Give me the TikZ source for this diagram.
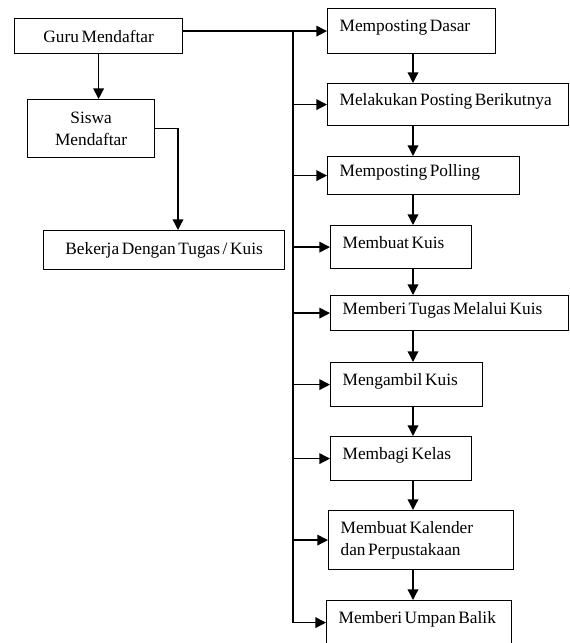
\documentclass[tikz,border=0pt]{standalone}
\usepackage{fontspec}
\setmainfont[WordSpace=0.6]{Liberation Serif}
\usetikzlibrary{arrows.meta,positioning}
\tikzset{
  kotak/.style = {draw, line width=0.9pt, rectangle, align=center, inner sep=2pt,
                  anchor=north west},
  tahap/.style = {draw, line width=0.9pt, rectangle, align=flush left, inner xsep=9pt,
                  inner ysep=2pt, anchor=north west, text depth=7.5pt},
  alur/.style  = {->, line width=1pt}
}

\begin{document}
\begin{tikzpicture}[x=0.75pt, y=-0.75pt, >={Triangle[length=8pt,width=8pt]},
  font=\fontsize{13}{16.5}\selectfont]

\clip (0,0) rectangle (569,643);

% sisi kiri
\node[kotak, minimum width=126pt, minimum height=26.25pt] (guru) at (14,18) {Guru Mendaftar};
\node[kotak, minimum width=95.25pt, minimum height=43.5pt] (siswa) at (27,99) {Siswa\\Mendaftar};
\node[kotak, minimum width=180.75pt, minimum height=29.25pt] (kerja) at (43,230) {Bekerja Dengan Tugas / Kuis};

% sisi kanan, langkah guru
\node[tahap, text width=108pt, minimum height=33.75pt] (d1) at (327,8) {Memposting Dasar};
\node[tahap, text width=162.75pt, minimum height=31.5pt] (d2) at (327,83) {Melakukan Posting Berikutnya};
\node[tahap, text width=126pt, minimum height=28.5pt] (d3) at (327,156) {Memposting Polling};
\node[tahap, text width=87.75pt, minimum height=32.25pt] (d4) at (330,225) {Membuat Kuis};
\node[tahap, text width=160.5pt, minimum height=26.25pt] (d5) at (330,295) {Memberi Tugas Melalui Kuis};
\node[tahap, text width=96pt, minimum height=33pt] (d6) at (330,362) {Mengambil Kuis};
\node[tahap, text width=87.75pt, minimum height=33pt] (d7) at (330,436) {Membagi Kelas};
\node[tahap, text width=120.75pt, minimum height=44.25pt, text depth={}] (d8) at (328,510) {Membuat Kalender\\dan Perpustakaan};
\node[tahap, text width=120.75pt, minimum height=33pt] (d9) at (326,600) {Memberi Umpan Balik};

% titik bantu untuk jalur
\coordinate (bus) at (293,0);
\coordinate (kol) at (413,0);
\coordinate (belok) at (178,0);

\draw[alur] (guru.south) -- (guru.south |- siswa.north);
\draw[alur] (siswa.east) -| (belok |- kerja.north);

\draw[alur] (guru.east |- d1.west) -- (d1.west);
\draw[alur] (bus |- d1.west) |- (d9.west);

\foreach \value in {2,...,8}
  \draw[alur] (bus |- d\value.west) -- (d\value.west);

\foreach \a/\b in {1/2,2/3,3/4,4/5,5/6,6/7,7/8,8/9}
  \draw[alur] (kol |- d\a.south) -- (kol |- d\b.north);

\end{tikzpicture}
\end{document}
